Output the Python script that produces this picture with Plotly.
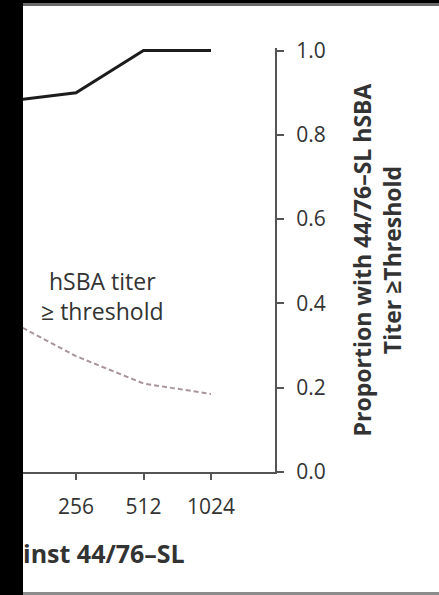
import math
import plotly.graph_objects as go

# ---- data ----
titers = [128, 256, 512, 1024]
titer_labels = ["128", "256", "512", "1024"]
prop_solid = [0.88, 0.90, 1.00, 1.00]
prop_dashed = [0.36, 0.275, 0.21, 0.185]
y_ticks = [0.0, 0.2, 0.4, 0.6, 0.8, 1.0]
y_title = "<b>Proportion with 44/76–SL hSBA<br>Titer ≥Threshold</b>"
x_title_visible = "<b>inst 44/76–SL</b>"
curve_label = "hSBA titer<br>≥ threshold"

# ---- layout geometry (pixels) ----
W, H = 439, 595
PL, PR, PT, PB = 23, 275, 48, 472
pw, ph = PR - PL, PB - PT

def pxx(px):
    return (px - PL) / pw

def pxy(py):
    return (PB - py) / ph

FONT = "Open Sans"
TXT = "#333333"
AX = "#555555"

fig = go.Figure()
fig.add_trace(go.Scatter(
    x=titers, y=prop_solid, mode="lines",
    line=dict(color="#1c1c1c", width=3),
    showlegend=False, hoverinfo="skip"))
fig.add_trace(go.Scatter(
    x=titers, y=prop_dashed, mode="lines",
    line=dict(color="#a8949c", width=2, dash="5px,3px"),
    showlegend=False, hoverinfo="skip"))

shapes = [
    # white panel
    dict(type="rect", xref="paper", yref="paper", layer="below",
         x0=pxx(23), x1=pxx(W + 2), y0=pxy(592), y1=pxy(5),
         fillcolor="white", line=dict(width=0)),
    # grey strip under the top black border
    dict(type="rect", xref="paper", yref="paper", layer="below",
         x0=pxx(23), x1=pxx(W + 2), y0=pxy(6), y1=pxy(3),
         fillcolor="#6a6a6a", line=dict(width=0)),
    # grey strip at the bottom
    dict(type="rect", xref="paper", yref="paper", layer="below",
         x0=pxx(23), x1=pxx(W + 2), y0=pxy(H + 1), y1=pxy(592),
         fillcolor="#8c8c8c", line=dict(width=0)),
]

annotations = [
    dict(text=curve_label, xref="paper", yref="paper",
         x=pxx(102), y=pxy(296), xanchor="center", yanchor="middle",
         showarrow=False, align="center",
         font=dict(family=FONT, size=23, color=TXT)),
    dict(text=x_title_visible, xref="paper", yref="paper",
         x=pxx(21), y=pxy(553), xanchor="left", yanchor="middle",
         showarrow=False, font=dict(family=FONT, size=25, color=TXT)),
]

log2 = math.log10(2)
fig.update_layout(
    width=W, height=H, autosize=False,
    margin=dict(l=PL, r=W - PR, t=PT, b=H - PB, pad=0),
    paper_bgcolor="black", plot_bgcolor="white",
    font=dict(family=FONT, color=TXT),
    shapes=shapes, annotations=annotations,
    xaxis=dict(
        type="log", range=[7.215 * log2, 10.948 * log2],
        tickvals=titers, ticktext=titer_labels,
        ticks="outside", ticklen=6, tickwidth=2, tickcolor=AX,
        showline=True, linecolor=AX, linewidth=2,
        showgrid=False, zeroline=False,
        ticklabelstandoff=9,
        tickfont=dict(family=FONT, size=21, color=TXT),
    ),
    yaxis=dict(
        side="right", range=[0, 1.006],
        tickvals=y_ticks, tickformat=".1f",
        ticks="outside", ticklen=7, tickwidth=2, tickcolor=AX,
        showline=True, linecolor=AX, linewidth=2,
        showgrid=False, zeroline=False,
        ticklabelstandoff=8,
        tickfont=dict(family=FONT, size=21, color=TXT),
        title=dict(text=y_title, standoff=30,
                   font=dict(family=FONT, size=23, color=TXT)),
    ),
)

fig.write_html("out.html")
